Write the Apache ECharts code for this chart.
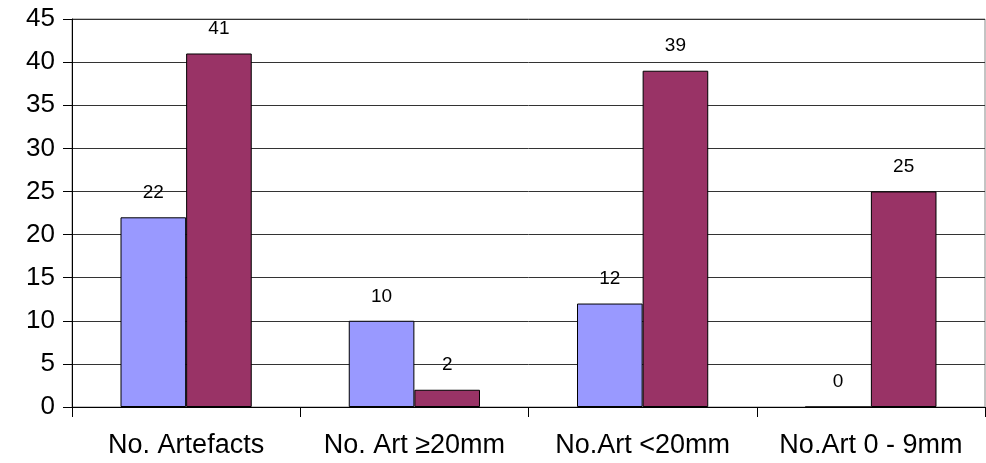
<!DOCTYPE html>
<html><head><meta charset="utf-8">
<script src="https://cdn.jsdelivr.net/npm/echarts@6/dist/echarts.min.js"></script>
<style>html,body{margin:0;padding:0;background:#fff}#c{width:986px;height:463px}</style>
</head><body><div id="c"></div>
<script>
const categories = ['No. Artefacts', 'No. Art ≥20mm', 'No.Art <20mm', 'No.Art 0 - 9mm'];
const series1 = [22, 10, 12, 0];
const series2 = [41, 2, 39, 25];
const yTicks = [0, 45, 5];

const chart = echarts.init(document.getElementById('c'));
const font = "'Liberation Sans', Arial, sans-serif";
const lbl = {show: true, position: 'top', distance: 15, fontSize: 19, color: '#000', fontFamily: font};
chart.setOption({
  animation: false,
  grid: {left: 72, right: 1, top: 19, bottom: 56, show: true, borderColor: '#888', borderWidth: 1},
  xAxis: {
    type: 'category', data: categories,
    axisLine: {lineStyle: {color: '#000', width: 1}},
    axisTick: {show: true, length: 10, lineStyle: {color: '#000'}},
    axisLabel: {interval: 0, fontSize: 27, color: '#000', fontFamily: font, margin: 25}
  },
  yAxis: {
    type: 'value', min: yTicks[0], max: yTicks[1], interval: yTicks[2],
    axisLine: {show: true, lineStyle: {color: '#000', width: 1}},
    axisTick: {show: true, length: 9, lineStyle: {color: '#000'}},
    axisLabel: {fontSize: 26, color: '#000', fontFamily: font, margin: 17},
    splitLine: {show: true, lineStyle: {color: '#333', width: 1}}
  },
  series: [
    {type: 'bar', data: series1, barGap: '0%', barCategoryGap: '42.5%',
     itemStyle: {color: '#9999FF', borderColor: '#000', borderWidth: 1}, label: lbl},
    {type: 'bar', data: series2, barGap: '0%', barCategoryGap: '42.5%',
     itemStyle: {color: '#993366', borderColor: '#000', borderWidth: 1}, label: lbl}
  ]
});
</script></body></html>
